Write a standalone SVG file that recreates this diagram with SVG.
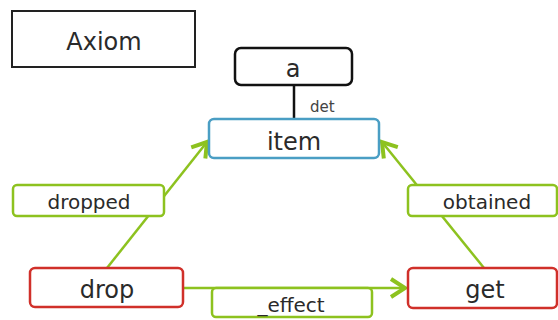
<svg xmlns="http://www.w3.org/2000/svg" width="558" height="320" viewBox="0 0 558 320">
  <defs>
    <style>
      text { font-family: "DejaVu Sans", "Liberation Sans", sans-serif; fill: #2a2a2a; text-anchor: middle; }
      .big { font-size: 24px; }
      .lbl { font-size: 20px; }
      .small { font-size: 15px; fill: #444; text-anchor: start; }
      .edge { stroke: #8dc21f; stroke-width: 2.5; fill: none; }
      .lblbox { fill: #fff; stroke: #8dc21f; stroke-width: 2.5; }
      .pred { fill: #fff; stroke: #d0302a; stroke-width: 2.5; }
      .word { fill: #fff; stroke: #111; stroke-width: 2.5; }
      .head { fill: #fff; stroke: #4a9ec4; stroke-width: 2.5; }
    </style>
    <marker id="arrow" markerUnits="userSpaceOnUse" viewBox="-20 -14 24 28" refX="0" refY="0" markerWidth="24" markerHeight="28" orient="auto" overflow="visible">
      <path d="M-14,-9 L0,0 L-14,9" fill="none" stroke="#8dc21f" stroke-width="4" stroke-linejoin="miter"/>
    </marker>
  </defs>

  <rect width="558" height="320" fill="#fff"/>

  <!-- title -->
  <g id="title">
    <rect x="12" y="11" width="183" height="56" fill="#fff" stroke="#222" stroke-width="2"/>
    <text class="big" x="104" y="50">Axiom</text>
  </g>

  <!-- connectors with their labels -->
  <g id="connectors">
    <line x1="294" y1="85" x2="294" y2="119" stroke="#111" stroke-width="2.5"/>
    <text class="small" x="310" y="112">det</text>

    <line class="edge" x1="107" y1="268" x2="207" y2="142" marker-end="url(#arrow)"/>
    <line class="edge" x1="484" y1="268" x2="382" y2="142" marker-end="url(#arrow)"/>
    <line class="edge" x1="183" y1="288" x2="405" y2="288" marker-end="url(#arrow)"/>

    <g id="label-dropped">
      <rect class="lblbox" x="13" y="185" width="151" height="31" rx="4"/>
      <text class="lbl" x="89" y="209">dropped</text>
    </g>
    <g id="label-obtained">
      <rect class="lblbox" x="408" y="185" width="149" height="31" rx="4"/>
      <text class="lbl" x="487" y="209">obtained</text>
    </g>
    <g id="label-effect">
      <rect class="lblbox" x="212" y="288" width="160" height="29" rx="4"/>
      <text class="lbl" x="291" y="312">_effect</text>
    </g>
  </g>

  <!-- nodes -->
  <g id="node-a">
    <rect class="word" x="235" y="48" width="117" height="37" rx="6"/>
    <text class="big" x="293" y="77">a</text>
  </g>
  <g id="node-item">
    <rect class="head" x="209" y="119" width="170" height="39" rx="5"/>
    <text class="big" x="294" y="150">item</text>
  </g>
  <g id="node-drop">
    <rect class="pred" x="30" y="268" width="153" height="39" rx="5"/>
    <text class="big" x="107" y="298">drop</text>
  </g>
  <g id="node-get">
    <rect class="pred" x="408" y="268" width="149" height="40" rx="5"/>
    <text class="big" x="485" y="298">get</text>
  </g>
</svg>
